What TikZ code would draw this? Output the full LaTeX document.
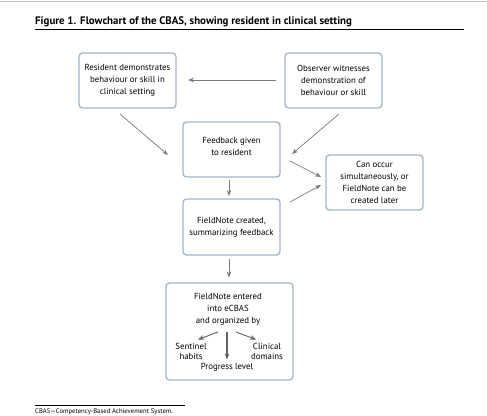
\documentclass[tikz,border=0pt]{standalone}
\usepackage{fontspec}
\setmainfont{PT Sans}
\usetikzlibrary{arrows.meta}
\definecolor{boxc}{HTML}{A3B6CB}
\definecolor{arrc}{HTML}{7A7A7A}
\definecolor{topc}{HTML}{C8C8C8}
\begin{document}
\begin{tikzpicture}[x=1pt,y=-1pt,
  box/.style={draw=boxc, line width=1.4pt, rounded corners=3.5pt, align=center,
    font=\fontsize{8.8}{11.8}\selectfont, inner sep=0pt},
  txt/.style={align=center, font=\fontsize{8.8}{11.8}\selectfont, inner sep=0pt},
  arr/.style={draw=arrc, line width=0.7pt, -{Stealth[length=6pt,width=4.5pt]}},
  subarr/.style={draw=arrc!80!black, line width=0.9pt, -{Stealth[length=6pt,width=4.5pt]}}]
\useasboundingbox (0,0) rectangle (487,415);
\fill[white] (0,0) rectangle (487,415);
\draw[topc, line width=0.8pt] (0,1) -- (487,1);
% title
\node[anchor=base west, inner sep=0pt, font=\fontsize{10.9}{12}\selectfont] (title) at (35,24.5)
  {\textbf{Figure 1.} \textbf{Flowchart of the CBAS, showing resident in clinical setting}};
\draw[black, line width=1pt] (35,29.5) -- (464,29.5);
% boxes
\node[box, minimum width=97pt, minimum height=55pt] (A) at (127.5,80.5)
  {Resident demonstrates\\behaviour or skill in\\clinical setting};
\node[box, minimum width=97pt, minimum height=55pt] (B) at (333.5,80.5)
  {Observer witnesses\\demonstration of\\behaviour or skill};
\node[box, minimum width=97pt, minimum height=55pt] (C) at (231.5,149.5) {};
\node[txt] (Ct) at (231.5,146.5) {Feedback given\\to resident};
\node[box, minimum width=97pt, minimum height=55pt] (D) at (374.5,182.5)
  {Can occur\\simultaneously, or\\FieldNote can be\\created later};
\node[box, minimum width=97pt, minimum height=56pt] (E) at (231.5,227)
  {FieldNote created,\\summarizing feedback};
\node[box, minimum width=127pt, minimum height=97pt] (F) at (229.5,331.5) {};
\node[txt] (Ft) at (228,309) {FieldNote entered\\into eCBAS\\and organized by};
\node[txt, font=\fontsize{8.8}{9.2}\selectfont] (S) at (191,351.5) {Sentinel\\habits};
\node[txt, font=\fontsize{8.8}{9.2}\selectfont] (Cl) at (267,351.5) {Clinical\\domains};
\node[txt] (P) at (227,367) {Progress level};
% connectors
\coordinate (Bw) at (276,80);
\coordinate (Aeb) at (188,80);
\draw[arr] (Bw) -- (Aeb);
\coordinate (A1) at (120,114);
\coordinate (C1) at (168,155);
\draw[arr] (A1) -- (C1);
\coordinate (B1) at (339,114);
\coordinate (C2) at (292,154);
\draw[arr] (B1) -- (C2);
\coordinate (C3) at (290,161);
\coordinate (D1) at (321,177);
\draw[arr] (C3) -- (D1);
\coordinate (E1) at (290,202);
\coordinate (D2) at (321,185);
\draw[arr] (E1) -- (D2);
\draw[arr] (C.south -| 229,0) ++(0,2) -- (229,196);
\draw[arr] (E.south -| 229,0) ++(0,3) -- (229,277.5);
% sub-arrows inside F
\coordinate (f1) at (218,332);
\coordinate (f2) at (227,332);
\coordinate (f3) at (236,332);
\draw[subarr] (f1) -- (198,339.5);
\draw[subarr, line width=1.3pt] (f2) -- (227,359.5);
\draw[subarr] (f3) -- (256,339.5);
% footnote
\draw[black, line width=0.6pt] (35,405) -- (185,405);
\node[anchor=base west, inner sep=0pt, font=\fontsize{6.7}{7}\selectfont] (fn) at (35,413.5)
  {CBAS—Competency-Based Achievement System.};
\end{tikzpicture}
\end{document}
